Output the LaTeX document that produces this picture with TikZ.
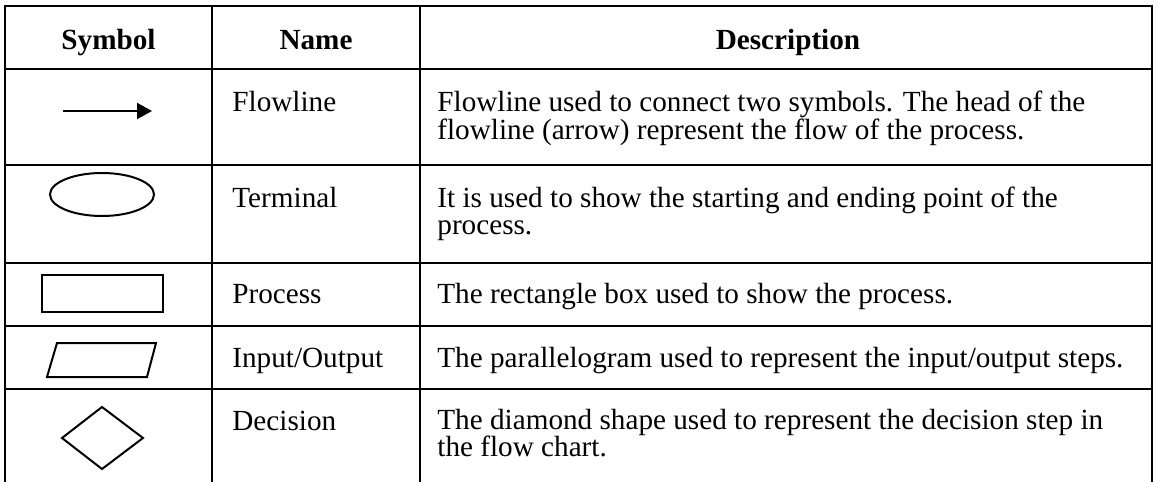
\documentclass[tikz,border=0pt]{standalone}
\usepackage{fontspec}
\setmainfont{Liberation Serif}
\usepackage{tikz}
\usetikzlibrary{arrows.meta,shapes.geometric}

\begin{document}
\begin{tikzpicture}[x = 0.5pt, y = -0.5pt,
every node/.style = {font = \fontsize{14.6}{13.5}\selectfont, inner sep = 0pt}]

\tikzset{
	grid_line/.style = {
		line width = 1.3pt, line cap = rect
	},
	sym_shape/.style = {
		draw, line width = 1pt
	},
	head_text/.style = {
		font = \fontsize{14.6}{13.5}\selectfont\bfseries, anchor = base
	},
	name_text/.style = {
		anchor = base west
	},
	desc_text/.style = {
		anchor = base west, align = left % base = baseline de la ultima linea
	}
}

\useasboundingbox (0,0) rectangle (1158,482);

% Rejilla de la tabla
\foreach \y in {6,69,165,263,326,389}
	\draw[grid_line] (5,\y) -- (1152,\y);
\foreach \x in {5,212,420,1152}
	\draw[grid_line] (\x,6) -- (\x,482);

% Cabecera
\node[head_text] (hSym) at (108.5,49) {Symbol};
\node[head_text] (hName) at (316,49) {Name};
\node[head_text] (hDesc) at (788,49) {Description};

% Simbolos
\coordinate (flowA) at (63,111);
\coordinate (flowB) at (152,111);
\draw[line width = 1pt, -{Triangle[length = 7.5pt, width = 8pt]}] (flowA) -- (flowB);
\node[sym_shape, ellipse, minimum width = 52pt, minimum height = 21.5pt] (termSym) at (102,194.5) {};
\node[sym_shape, rectangle, minimum width = 60.5pt, minimum height = 18.5pt] (procSym) at (102.5,293.5) {};
\draw[line width = 1pt] (57,343) -- (156,343) -- (147,377) -- (47,377) -- cycle; % paralelogramo
\draw[line width = 1pt] (102,407) -- (143,438) -- (102,469) -- (62,438) -- cycle; % rombo

% Nombres
\node[name_text] (nFlow) at (232,112) {Flowline};
\node[name_text] (nTerm) at (232,207) {Terminal};
\node[name_text] (nProc) at (232,303) {Process};
\node[name_text] (nIO) at (232,367) {Input/Output};
\node[name_text] (nDec) at (232,430) {Decision};

% Descripciones
\node[desc_text] (dFlow) at (437,139) {Flowline used to connect two symbols. The head of the\\flowline (arrow) represent the flow of the process.};
\node[desc_text] (dTerm) at (437,234) {It is used to show the starting and ending point of the\\process.};
\node[desc_text] (dProc) at (437,303) {The rectangle box used to show the process.};
\node[desc_text] (dIO) at (437,367) {The parallelogram used to represent the input/output steps.};
\node[desc_text] (dDec) at (437,456) {The diamond shape used to represent the decision step in\\the flow chart.};
\end{tikzpicture}
\end{document}
